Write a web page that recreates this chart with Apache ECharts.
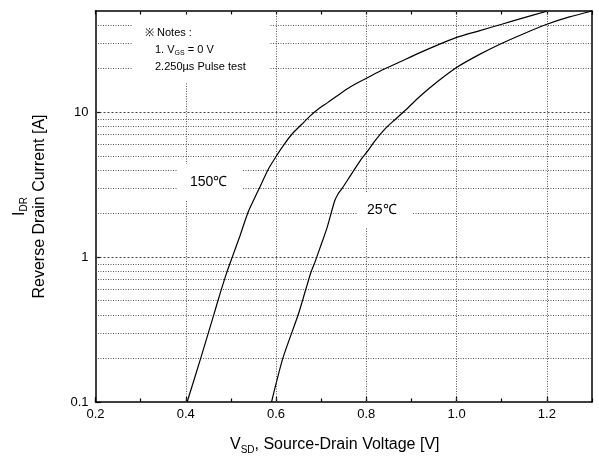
<!DOCTYPE html>
<html><head><meta charset="utf-8">
<script src="https://cdn.jsdelivr.net/npm/echarts@6/dist/echarts.min.js"></script>
<style>html,body{margin:0;padding:0;background:#fff}#c{width:599px;height:460px}</style>
</head><body><div id="c"></div>
<script>
// ---- data ----
const v150 = [0.403,0.433,0.461,0.476,0.490,0.503,0.520,0.538,0.551,0.564,0.582,0.600,0.618,0.635,0.657,0.675,0.693,0.715,0.734,0.765,0.799,0.830,0.875,0.919,0.960,1.000,1.050,1.100,1.150,1.200];
const i150 = [0.1,0.2,0.39,0.56,0.77,1.0,1.4,2.04,2.5,3.04,4.0,4.95,6.0,7.05,8.26,9.4,10.5,11.7,12.9,15.0,17.1,19.2,22.3,25.8,29.3,32.9,36.5,40.5,45.0,49.8];
const v25 = [0.590,0.615,0.649,0.666,0.677,0.686,0.697,0.712,0.730,0.738,0.746,0.766,0.790,0.801,0.820,0.841,0.860,0.889,0.919,0.960,1.000,1.050,1.096,1.150,1.200,1.250,1.300];
const i25 = [0.1,0.2,0.4,0.6,0.78,0.92,1.15,1.56,2.45,2.75,2.97,3.7,4.8,5.3,6.4,7.64,8.7,10.5,12.9,16.5,20.4,25.0,29.5,35.0,40.5,45.5,50.0];
const xTickLabels = ['0.2','0.4','0.6','0.8','1.0','1.2'];
const yTickLabels = ['0.1','1','10'];
const majorGridY = [1, 10];
const minorGridY = [0.2,0.3,0.4,0.5,0.6,0.7,0.8,0.9,2,3,4,5,6,7,8,9,20,30,40];
const gridX = [0.4,0.6,0.8,1.0,1.2];
const curveLabels = ['150\u2103','25\u2103'];

const FONT = 'Liberation Sans, Arial, sans-serif';
const chart = echarts.init(document.getElementById('c'));

const gridLines = []
  .concat(majorGridY.map(v => ({yAxis: v, lineStyle: {type: [2, 2], color: '#444', width: 1}})))
  .concat(minorGridY.map(v => ({yAxis: v, lineStyle: {type: [1, 1.5], color: '#555', width: 1}})))
  .concat(gridX.map(v => ({xAxis: v, lineStyle: {type: [1, 1.5], color: '#555', width: 1}})));

const xBase = {type: 'value', min: 0.2, max: 1.3, splitLine: {show: false}, gridIndex: 0};
const yBase = {type: 'log', logBase: 10, min: 0.1, max: 50, splitLine: {show: false}};

chart.setOption({
  animation: false,
  backgroundColor: '#fff',
  textStyle: {fontFamily: FONT},
  grid: {left: 95.5, right: 7, top: 11, bottom: 57},
  xAxis: [
    Object.assign({}, xBase, {
      position: 'bottom', interval: 0.2,
      axisLine: {show: true, lineStyle: {color: '#000', width: 1.5}},
      axisTick: {show: true, inside: true, length: 5, lineStyle: {color: '#000', width: 1.2}},
      axisLabel: {
        color: '#000', fontSize: 13, fontFamily: FONT, margin: 6, showMaxLabel: false,
        formatter: v => { const s = v.toFixed(1); return xTickLabels.indexOf(s) >= 0 ? s : ''; }
      },
      name: '{v|V}{s|SD}{t|, Source-Drain Voltage [V]}',
      nameLocation: 'middle', nameGap: 33,
      nameTextStyle: {
        padding: [0, 18, 0, 0],
        rich: {
          v: {fontSize: 16, fontFamily: FONT, color: '#000', lineHeight: 20},
          s: {fontSize: 10, fontFamily: FONT, color: '#000', verticalAlign: 'bottom', lineHeight: 10},
          t: {fontSize: 16, fontFamily: FONT, color: '#000', lineHeight: 20}
        }
      }
    }),
    Object.assign({}, xBase, {
      position: 'bottom', interval: 0.1,
      axisLine: {show: false},
      axisTick: {show: true, inside: true, length: 3.5, lineStyle: {color: '#000', width: 1.2}},
      axisLabel: {show: false}
    }),
    Object.assign({}, xBase, {
      position: 'top', interval: 0.1,
      axisLine: {show: true, lineStyle: {color: '#000', width: 1.5}},
      axisTick: {show: true, inside: true, length: 3.5, lineStyle: {color: '#000', width: 1.2}},
      axisLabel: {show: false}
    })
  ],
  yAxis: [
    Object.assign({}, yBase, {
      position: 'left',
      axisLine: {show: true, lineStyle: {color: '#000', width: 1.5}},
      axisTick: {show: true, inside: true, length: 5, lineStyle: {color: '#000', width: 1.2}},
      axisLabel: {
        color: '#000', fontSize: 13, fontFamily: FONT, margin: 7, showMaxLabel: false,
        formatter: v => { const s = String(+v.toPrecision(3)); return yTickLabels.indexOf(s) >= 0 ? s : ''; }
      },
      name: '{i|I}{s|DR}\n{t|Reverse Drain Current [A]}',
      nameLocation: 'middle', nameGap: 46,
      nameTextStyle: {
        rich: {
          i: {fontSize: 16, fontFamily: FONT, color: '#000', lineHeight: 20},
          s: {fontSize: 10, fontFamily: FONT, color: '#000', verticalAlign: 'bottom', lineHeight: 10},
          t: {fontSize: 16, fontFamily: FONT, color: '#000', lineHeight: 20}
        }
      }
    }),
    Object.assign({}, yBase, {
      position: 'right',
      axisLine: {show: true, lineStyle: {color: '#000', width: 1.5}},
      axisTick: {show: false},
      axisLabel: {show: false}
    })
  ],
  series: [
    {
      name: curveLabels[0], type: 'line', xAxisIndex: 0, yAxisIndex: 0,
      data: v150.map((v, k) => [v, i150[k]]),
      showSymbol: false, smooth: 0.25,
      lineStyle: {color: '#000', width: 1.2},
      z: 5,
      markLine: {
        silent: true, symbol: ['none', 'none'], label: {show: false}, z: 1,
        animation: false, data: gridLines
      }
    },
    {
      name: curveLabels[1], type: 'line', xAxisIndex: 0, yAxisIndex: 0,
      data: v25.map((v, k) => [v, i25[k]]),
      showSymbol: false, smooth: 0.25,
      lineStyle: {color: '#000', width: 1.2},
      z: 5
    }
  ],
  graphic: [
    {type: 'rect', z: 100, shape: {x: 133, y: 16, width: 137, height: 67}, style: {fill: '#fff'}},
    {type: 'rect', z: 100, shape: {x: 178, y: 164, width: 64, height: 36}, style: {fill: '#fff'}},
    {type: 'rect', z: 100, shape: {x: 357, y: 193, width: 56, height: 35}, style: {fill: '#fff'}},
    {type: 'text', z: 101, x: 145, y: 33, style: {text: '\u203B Notes :', fontSize: 11, fontFamily: FONT, fill: '#000', verticalAlign: 'middle'}},
    {type: 'text', z: 101, x: 155, y: 50, style: {
      text: '{a|1. V}{s|GS}{a| = 0 V}', verticalAlign: 'middle',
      rich: {
        a: {fontSize: 11, fontFamily: FONT, fill: '#000', lineHeight: 14},
        s: {fontSize: 7, fontFamily: FONT, fill: '#000', verticalAlign: 'bottom', lineHeight: 8}
      }
    }},
    {type: 'text', z: 101, x: 155, y: 67, style: {text: '2.250\u00B5s Pulse test', fontSize: 11, fontFamily: FONT, fill: '#000', verticalAlign: 'middle'}},
    {type: 'text', z: 101, x: 190, y: 182, style: {text: curveLabels[0], fontSize: 14, fontFamily: FONT, fill: '#000', verticalAlign: 'middle'}},
    {type: 'text', z: 101, x: 367, y: 210, style: {text: curveLabels[1], fontSize: 14, fontFamily: FONT, fill: '#000', verticalAlign: 'middle'}}
  ]
});
</script>
</body></html>
